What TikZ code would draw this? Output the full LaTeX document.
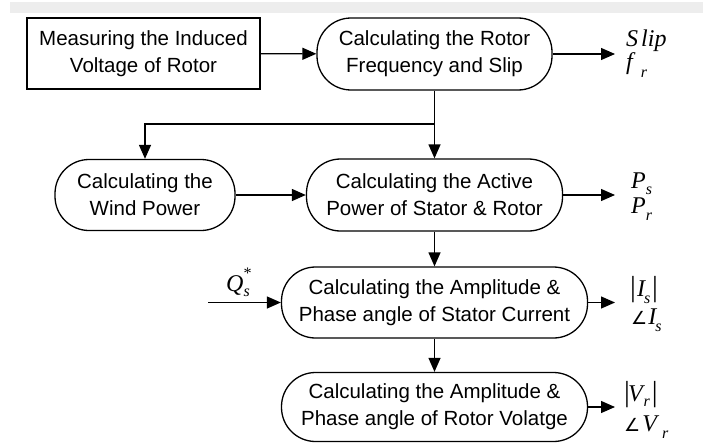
\documentclass[tikz,border=0pt]{standalone}
\usepackage{fontspec}
\setmainfont{Liberation Sans}
\newfontfamily\tms{Liberation Serif}
\newfontfamily\dvs{DejaVu Sans}
\usetikzlibrary{arrows.meta}
\newcommand{\subsc}[2][-7pt]{\raisebox{#1}{\fontsize{16}{16}\selectfont #2}}
\newcommand{\vbar}{\smash{\upshape\fontsize{29}{29}\selectfont|}}
\newcommand{\angsym}{{\upshape\dvs\fontsize{18}{18}\selectfont ∠}}
\begin{document}
\begin{tikzpicture}[x=1pt,y=-1pt,
 proc/.style={draw,line width=1.3pt,align=center,font=\fontsize{20.5}{27}\selectfont,inner sep=0pt},
 oval/.style={proc,rounded corners=34pt},
 arr/.style={line width=1.3pt,-{Triangle[length=14pt,width=12pt]}},
 lbl/.style={anchor=base west,inner sep=0pt,font=\fontsize{24}{24}\selectfont\tms\itshape}]
\useasboundingbox (0,0) rectangle (703,444);
\fill[gray!14] (10,2) rectangle (703,13);
\node[proc,minimum width=233pt,minimum height=71pt] (b1) at (143.5,53.5) {Measuring the Induced\\Voltage of Rotor};
\node[oval,minimum width=235pt,minimum height=72pt] (b2) at (434.5,54) {Calculating the Rotor\\Frequency and Slip};
\node[oval,minimum width=180pt,minimum height=71pt] (b3) at (145,195) {Calculating the\\Wind Power};
\node[oval,minimum width=256pt,minimum height=72pt] (b4) at (434.5,195) {Calculating the Active\\Power of Stator \& Rotor};
\node[oval,minimum width=306pt,minimum height=71pt] (b5) at (434.5,302.5) {Calculating the Amplitude \&\\Phase angle of Stator Current};
\node[oval,minimum width=306pt,minimum height=69pt] (b6) at (434.5,407) {Calculating the Amplitude \&\\Phase angle of Rotor Volatge};
\coordinate (o2) at (615,54);
\coordinate (o4) at (615,195);
\coordinate (o5) at (615,302.5);
\coordinate (o6) at (615,407);
\coordinate (br) at (434.5,124);
\coordinate (qin) at (208,302.5);
\draw[arr] (b1) -- (b2);
\draw[arr] (b2) -- (o2);
\draw[arr] (b2) -- (b4);
\draw[arr] (br) -| (b3);
\draw[arr] (b3) -- (b4);
\draw[arr] (b4) -- (o4);
\draw[arr] (b4) -- (b5);
\draw[arr] (qin) -- (b5);
\draw[arr] (b5) -- (o5);
\draw[arr] (b5) -- (b6);
\draw[arr] (b6) -- (o6);
\node[lbl] (slip) at (626,47) {S\kern3pt lip};
\node[lbl] (fr) at (626,69) {f\kern8pt\subsc[-8pt]{r}};
\node[lbl] (ps) at (631,188) {P\kern0pt\subsc[-6pt]{s}};
\node[lbl] (pr) at (631,213) {P\kern0pt\subsc[-7pt]{r}};
\node[lbl] (q) at (226,291) {Q\kern0pt\subsc[-5pt]{s}\kern-7pt\raisebox{13pt}{\fontsize{16}{16}\selectfont *}};
\node[lbl] (is) at (630,296) {\vbar\kern1pt I\kern-1pt\subsc{s}\kern2pt\vbar};
\node[lbl] (ais) at (631,324) {\angsym\kern1pt I\kern-1pt\subsc{s}};
\node[lbl] (vr) at (624,401) {\vbar\kern-2pt V\kern1pt\subsc[-5pt]{r}\kern2pt\vbar};
\node[lbl] (avr) at (624,431) {\angsym\kern2pt V\kern5pt\subsc{r}};
\end{tikzpicture}
\end{document}
